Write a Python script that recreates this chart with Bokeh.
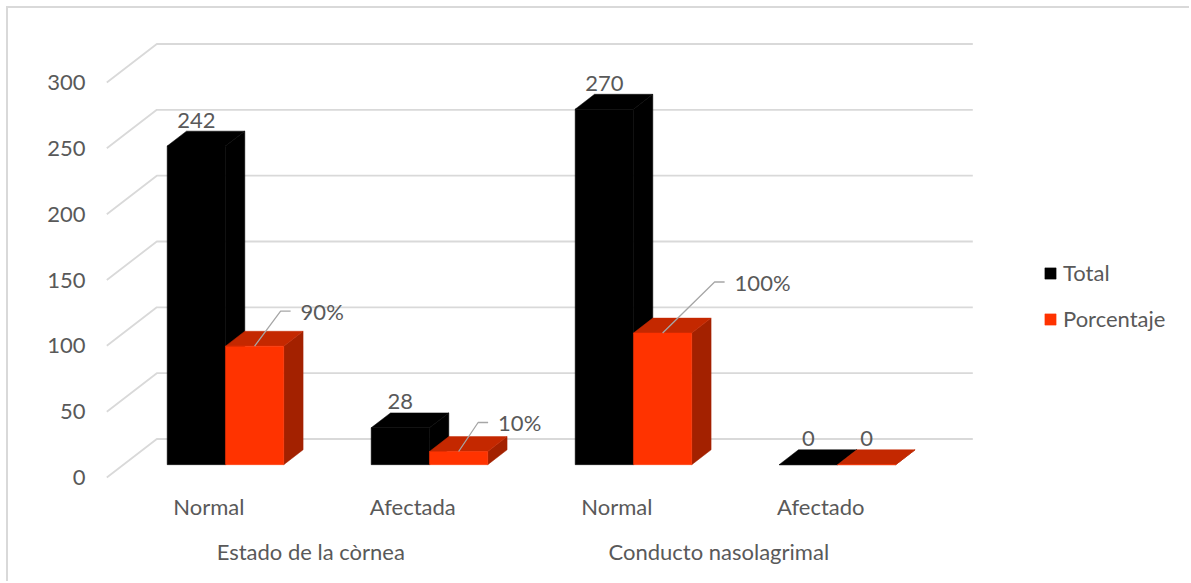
from bokeh.plotting import figure
from bokeh.models import (Range1d, FixedTicker, LinearAxis, Legend, LegendItem,
                          ColumnDataSource)
from bokeh.core.properties import value
from bokeh.embed import file_html
from bokeh.resources import INLINE

# ---------------- data ----------------
categories = ["Normal", "Afectada", "Normal", "Afectado"]
groups = ["Estado de la còrnea", "Conducto nasolagrimal"]
group_of = [0, 0, 1, 1]
total = [242, 28, 270, 0]
porcentaje = [90, 10, 100, 0]
total_labels = ["242", "28", "270", "0"]
pct_labels = ["90%", "10%", "100%", "0"]
y_ticks = [0, 50, 100, 150, 200, 250, 300]
series_names = ["Total", "Porcentaje"]

# ---------------- layout / style constants ----------------
FONT = "Lato"
FS = "22px"
TXT = "#595959"
GRID = "#D9D9D9"
BLACK = ["#000000", "#000000", "#000000"]          # front, top, side
RED = ["#FF3300", "#C42800", "#A32100"]

PX_X = 204.0              # px per category
PX_Y = 395.0 / 300.0      # px per value unit
FRAME_W, FRAME_H = 1091, 467
X0 = -108.3 / PX_X
X1 = X0 + FRAME_W / PX_X
Y0 = -10.0 / PX_Y
Y1 = Y0 + FRAME_H / PX_Y

DX = 50.0 / PX_X          # full depth of the 3D box (x units)
DY = 38.5 / PX_Y          # full depth of the 3D box (y units)
BAR_F, BAR_B = 1.0 / 3.0, 0.72
W = 1.0 / 3.5             # bar width (gap width 150%)
fx, fy = BAR_F * DX, BAR_F * DY
bx, by = BAR_B * DX, BAR_B * DY
LABEL_PAD = 11.0 / PX_Y

# leader offsets (px) for percentage labels
LEADER = [(26, 35), (19.5, 29), (52, 51), None]

p = figure(width=1183, height=575, output_backend="svg", toolbar_location=None,
           x_range=Range1d(X0, X1), y_range=Range1d(Y0, Y1),
           x_axis_location=None, y_axis_location=None,
           min_border_left=92, min_border_right=0, min_border_top=12,
           min_border_bottom=96)
p.outline_line_color = None
p.grid.visible = False
p.background_fill_color = "white"
p.border_fill_color = "white"
p.styles = {"margin-left": "6px", "margin-top": "6px",
            "border-left": "2px solid #D9D9D9", "border-top": "2px solid #D9D9D9"}

# ---------------- back wall gridlines ----------------
gx, gy = [], []
xl_wall, xr_wall = -0.5, len(categories) - 0.5
for t in y_ticks:
    gx.append([xl_wall, xl_wall + DX, xr_wall + DX])
    gy.append([t, t + DY, t + DY])
p.multi_line(gx, gy, line_color=GRID, line_width=1.8)

# ---------------- 3D bars ----------------
front_renderers = []
for s, (vals, cols) in enumerate([(total, BLACK), (porcentaje, RED)]):
    fxs, fys, txs, tys, sxs, sys_ = [], [], [], [], [], []
    for i, v in enumerate(vals):
        xl = i - W if s == 0 else i
        xr = xl + W
        fxs.append([xl + fx, xr + fx, xr + fx, xl + fx])
        fys.append([fy, fy, v + fy, v + fy])
        txs.append([xl + fx, xr + fx, xr + bx, xl + bx])
        tys.append([v + fy, v + fy, v + by, v + by])
        sxs.append([xr + fx, xr + bx, xr + bx, xr + fx])
        sys_.append([fy, by, v + by, v + fy])
    p.patches(sxs, sys_, fill_color=cols[2], line_color=cols[2], line_width=0.5)
    p.patches(txs, tys, fill_color=cols[1], line_color=cols[1], line_width=0.5)
    r = p.patches(fxs, fys, fill_color=cols[0], line_color=cols[0], line_width=0.5)
    front_renderers.append(r)

# ---------------- data labels: totals ----------------
src_t = ColumnDataSource(dict(
    x=[i - W / 2 + fx for i in range(len(total))],
    y=[v + by + LABEL_PAD for v in total],
    t=total_labels))
p.text(x="x", y="y", text="t", source=src_t, text_font=value(FONT),
       text_font_size=FS, text_color=TXT, text_align="center",
       text_baseline="middle")

# ---------------- data labels: percentages with leader lines ----------------
lx, ly, tx, ty, tt = [], [], [], [], []
zx, zy, zt = [], [], []
for i, v in enumerate(porcentaje):
    x0 = i + W / 2 + fx
    y0 = v + fy
    off = LEADER[i]
    if off is None:
        zx.append(x0)
        zy.append(v + by + LABEL_PAD)
        zt.append(pct_labels[i])
        continue
    ex, ey = off[0] / PX_X, off[1] / PX_Y
    tail = 10 / PX_X
    lx.append([x0, x0 + ex, x0 + ex + tail])
    ly.append([y0, y0 + ey, y0 + ey])
    tx.append(x0 + ex + 2 * tail)
    ty.append(y0 + ey)
    tt.append(pct_labels[i])
p.multi_line(lx, ly, line_color="#A6A6A6", line_width=1.3)
p.text(x=tx, y=ty, text=tt, text_font=value(FONT), text_font_size=FS,
       text_color=TXT, text_align="left", text_baseline="middle")
p.text(x=zx, y=zy, text=zt, text_font=value(FONT), text_font_size=FS,
       text_color=TXT, text_align="center", text_baseline="middle")

# ---------------- axes ----------------
def style_axis(ax, standoff):
    ax.axis_line_color = None
    ax.major_tick_line_color = None
    ax.minor_tick_line_color = None
    ax.major_tick_out = 0
    ax.major_tick_in = 0
    ax.major_label_standoff = standoff
    ax.major_label_text_font = FONT
    ax.major_label_text_font_size = FS
    ax.major_label_text_color = TXT

yaxis = LinearAxis(ticker=FixedTicker(ticks=y_ticks))
style_axis(yaxis, 15)
p.add_layout(yaxis, "left")

cat_pos = list(range(len(categories)))
xaxis1 = LinearAxis(ticker=FixedTicker(ticks=cat_pos),
                    major_label_overrides={k: c for k, c in zip(cat_pos, categories)})
style_axis(xaxis1, 5)
p.add_layout(xaxis1, "below")

grp_pos = []
for g in range(len(groups)):
    members = [i for i, gg in enumerate(group_of) if gg == g]
    grp_pos.append(sum(members) / len(members))
xaxis2 = LinearAxis(ticker=FixedTicker(ticks=grp_pos),
                    major_label_overrides={k: g for k, g in zip(grp_pos, groups)})
style_axis(xaxis2, 15)
p.add_layout(xaxis2, "below")

# ---------------- legend ----------------
legend = Legend(items=[LegendItem(label=series_names[k], renderers=[front_renderers[k]])
                       for k in range(2)],
                location=(943, 155), orientation="vertical",
                glyph_width=14, glyph_height=14, label_height=25,
                spacing=19, label_standoff=6, padding=0, margin=0,
                border_line_color=None, background_fill_alpha=0,
                label_text_font=FONT, label_text_font_size=FS,
                label_text_color=TXT)
p.add_layout(legend)

open("out.html", "w").write(file_html(p, INLINE))
